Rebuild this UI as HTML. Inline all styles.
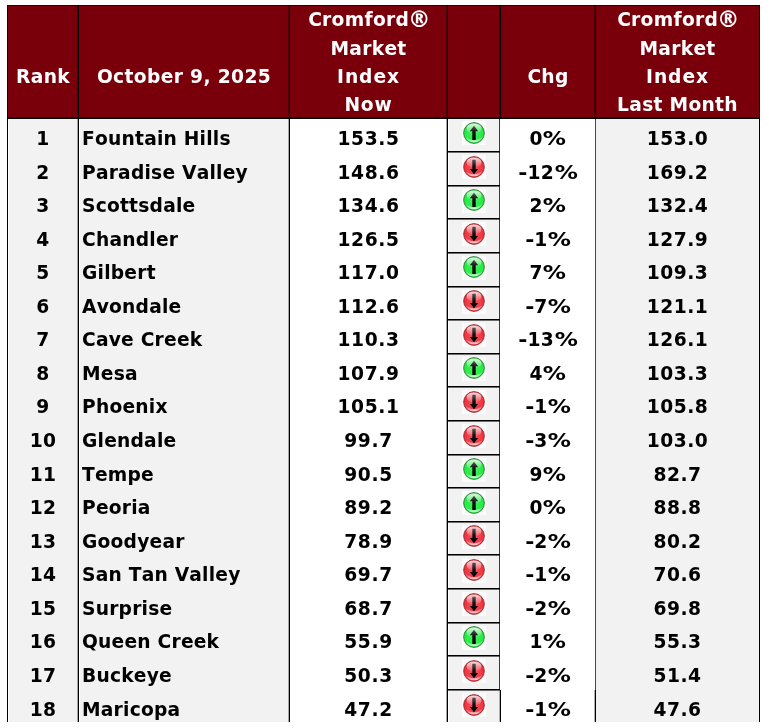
<!DOCTYPE html>
<html><head><meta charset="utf-8"><title>Cromford Market Index</title>
<style>
html,body{margin:0;padding:0;background:#fff;}
body{width:769px;height:728px;position:relative;overflow:hidden;font-family:"DejaVu Sans","Liberation Sans",sans-serif;font-weight:bold;font-size:18.67px;color:#000;}
.a{position:absolute;}
.t{position:absolute;white-space:nowrap;font-kerning:none;letter-spacing:0.3px;line-height:24px;height:24px;}
.c{text-align:center;}
.h{color:#fff;}
.g{background:#f1f1f1;}
.r{font-size:22.5px;line-height:0;letter-spacing:0;margin-left:-1.3px;margin-right:-1.5px;position:relative;top:0.5px}
.p{display:inline-block;transform:scaleX(1.24);margin:0 2.4px 0 2.6px;letter-spacing:0}
.m{display:inline-block;transform:scaleX(1.18);margin:0 0.9px 0 0.7px;letter-spacing:0}
svg{position:absolute;}
</style></head><body>
<svg width="0" height="0" style="left:0;top:0"><defs>
<radialGradient id="gu" cx="50%" cy="55%" r="55%"><stop offset="0" stop-color="#3cf558"/><stop offset="0.8" stop-color="#25ea42"/><stop offset="1" stop-color="#1cc432"/></radialGradient>
<radialGradient id="gd" cx="50%" cy="55%" r="55%"><stop offset="0" stop-color="#f9525b"/><stop offset="0.8" stop-color="#ee3340"/><stop offset="1" stop-color="#cc1d2a"/></radialGradient>
<linearGradient id="hl" x1="0" y1="0" x2="0" y2="1"><stop offset="0" stop-color="#fff" stop-opacity="0.85"/><stop offset="1" stop-color="#fff" stop-opacity="0.08"/></linearGradient>
<linearGradient id="bl" x1="0" y1="0" x2="0" y2="1"><stop offset="0" stop-color="#fff" stop-opacity="0"/><stop offset="1" stop-color="#fff" stop-opacity="0.8"/></linearGradient>
<linearGradient id="au" x1="0" y1="0" x2="0" y2="1"><stop offset="0" stop-color="#555"/><stop offset="0.45" stop-color="#111"/><stop offset="1" stop-color="#000"/></linearGradient>
<linearGradient id="ad" x1="0" y1="0" x2="0" y2="1"><stop offset="0" stop-color="#555"/><stop offset="0.45" stop-color="#111"/><stop offset="1" stop-color="#000"/></linearGradient>
</defs></svg>

<div class="a" style="left:7px;top:5px;width:753px;height:114px;background:#79000a"></div>
<div class="a" style="left:9px;top:119px;width:68px;height:603px;background:#f2f2f2"></div>
<div class="a" style="left:80px;top:119px;width:208px;height:603px;background:#f2f2f2"></div>
<div class="a" style="left:449px;top:119px;width:50px;height:603px;background:#f2f2f2"></div>
<div class="a" style="left:596px;top:119px;width:163px;height:603px;background:#f2f2f2"></div>
<div class="a" style="left:7px;top:5px;width:753px;height:1px;background:#2a0003"></div>
<div class="a" style="left:7px;top:117px;width:753px;height:1px;background:rgba(0,0,0,0.4)"></div>
<div class="a" style="left:7px;top:118px;width:753px;height:1px;background:#000"></div>
<div class="a" style="left:77px;top:5px;width:1px;height:717px;background:rgba(0,0,0,0.35)"></div>
<div class="a" style="left:78px;top:5px;width:1px;height:717px;background:#000"></div>
<div class="a" style="left:288px;top:5px;width:1px;height:717px;background:rgba(0,0,0,0.35)"></div>
<div class="a" style="left:289px;top:5px;width:1px;height:717px;background:#000"></div>
<div class="a" style="left:446px;top:5px;width:1px;height:717px;background:rgba(0,0,0,0.35)"></div>
<div class="a" style="left:447px;top:5px;width:1px;height:717px;background:#000"></div>
<div class="a" style="left:7px;top:5px;width:1px;height:717px;background:#000"></div>
<div class="a" style="left:759px;top:5px;width:1px;height:717px;background:#000"></div>
<div class="a" style="left:500px;top:5px;width:1px;height:113px;background:#000"></div>
<div class="a" style="left:499px;top:5px;width:1px;height:113px;background:rgba(0,0,0,0.35)"></div>
<div class="a" style="left:595px;top:5px;width:1px;height:113px;background:#000"></div>
<div class="a" style="left:594px;top:5px;width:1px;height:113px;background:rgba(0,0,0,0.35)"></div>
<div class="a" style="left:595px;top:119px;width:1px;height:571px;background:#484848"></div>
<div class="a" style="left:595px;top:690px;width:1px;height:32px;background:#000"></div>
<div class="a" style="left:594px;top:690px;width:1px;height:32px;background:rgba(0,0,0,0.3)"></div>
<div class="a" style="left:499px;top:119px;width:1px;height:571px;background:#3a3a3a"></div>
<div class="a" style="left:500px;top:690px;width:1px;height:32px;background:#000"></div>
<div class="a" style="left:499px;top:690px;width:1px;height:32px;background:rgba(0,0,0,0.3)"></div>
<div class="t c h" style="top:8px;transform:translateY(0.00px);letter-spacing:0.3px;left:290px;width:157px;">Cromford<span class="r">®</span></div>
<div class="t c h" style="top:37px;transform:translateY(0.00px);letter-spacing:0.3px;left:290px;width:157px;">Market</div>
<div class="t c h" style="top:65px;transform:translateY(0.00px);letter-spacing:0.95px;left:290px;width:157px;">Index</div>
<div class="t c h" style="top:93px;transform:translateY(0.00px);letter-spacing:0.8px;left:290px;width:157px;">Now</div>
<div class="t c h" style="top:8px;transform:translateY(0.00px);letter-spacing:0.3px;left:596px;width:163px;">Cromford<span class="r">®</span></div>
<div class="t c h" style="top:37px;transform:translateY(0.00px);letter-spacing:0.3px;left:596px;width:163px;">Market</div>
<div class="t c h" style="top:65px;transform:translateY(0.00px);letter-spacing:0.95px;left:596px;width:163px;">Index</div>
<div class="t c h" style="top:93px;transform:translateY(0.00px);letter-spacing:0.3px;left:596px;width:163px;">Last Month</div>
<div class="t c h" style="top:65px;transform:translateY(0.00px);left:8px;width:70px;">Rank</div>
<div class="t c h" style="top:65px;transform:translateY(0.00px);letter-spacing:0.36px;left:79px;width:210px;">October 9, 2025</div>
<div class="t c h" style="top:65px;transform:translateY(0.00px);left:501px;width:94px;">Chg</div>
<div class="t c" style="top:127px;transform:translateY(0.00px);left:8px;width:70px;">1</div>
<div class="t" style="top:127px;transform:translateY(0.00px);letter-spacing:0.22px;left:82px;">Fountain Hills</div>
<div class="t c" style="top:127px;transform:translateY(0.00px);letter-spacing:0.6px;left:290px;width:157px;">153.5</div>
<div class="t c" style="top:127px;transform:translateY(0.00px);left:501px;width:94px;">0<span class="p">%</span></div>
<div class="t c" style="top:127px;transform:translateY(0.00px);letter-spacing:0.45px;left:596px;width:163px;">153.0</div>
<div class="a" style="left:448px;top:151px;width:52px;height:1px;background:#000"></div>
<div class="a" style="left:448px;top:152px;width:52px;height:1px;background:rgba(0,0,0,0.55)"></div>
<div class="a" style="left:462px;top:121px;width:24px;height:24px;background:#fbfbfb"></div>
<svg style="left:461.90px;top:120.90px" width="24" height="24" viewBox="-12 -12 24 24"><circle r="10.4" fill="url(#gu)" stroke="#2a6e33" stroke-width="0.8"/><ellipse cx="0" cy="-4.6" rx="7.4" ry="5" fill="url(#hl)"/><path d="M-8.6,3.5 A9.3,9.3 0 0 0 8.6,3.5 A12,12 0 0 1 -8.6,3.5 Z" fill="url(#bl)"/><path d="M0,-7.2 L4.2,-1.8 L1.7,-1.8 L1.7,7 L-1.7,7 L-1.7,-1.8 L-4.2,-1.8 Z" fill="url(#au)"/></svg>
<div class="t c" style="top:160px;transform:translateY(0.56px);left:8px;width:70px;">2</div>
<div class="t" style="top:160px;transform:translateY(0.56px);letter-spacing:0.22px;left:82px;">Paradise Valley</div>
<div class="t c" style="top:160px;transform:translateY(0.56px);letter-spacing:0.6px;left:290px;width:157px;">148.6</div>
<div class="t c" style="top:160px;transform:translateY(0.56px);left:501px;width:94px;"><span class="m">-</span>12<span class="p">%</span></div>
<div class="t c" style="top:160px;transform:translateY(0.56px);letter-spacing:0.45px;left:596px;width:163px;">169.2</div>
<div class="a" style="left:448px;top:185px;width:52px;height:1px;background:#000"></div>
<div class="a" style="left:448px;top:186px;width:52px;height:1px;background:rgba(0,0,0,0.55)"></div>
<div class="a" style="left:462px;top:155px;width:24px;height:24px;background:#fbfbfb"></div>
<svg style="left:461.90px;top:154.53px" width="24" height="24" viewBox="-12 -12 24 24"><circle r="10.4" fill="url(#gd)" stroke="#8a2a30" stroke-width="0.8"/><ellipse cx="0" cy="-4.6" rx="7.4" ry="5" fill="url(#hl)"/><path d="M-8.6,3.5 A9.3,9.3 0 0 0 8.6,3.5 A12,12 0 0 1 -8.6,3.5 Z" fill="url(#bl)"/><path d="M0,7.2 L4.2,2.1 L1.7,2.1 L1.7,-7.2 L-1.7,-7.2 L-1.7,2.1 L-4.2,2.1 Z" fill="url(#ad)"/></svg>
<div class="t c" style="top:194px;transform:translateY(0.12px);left:8px;width:70px;">3</div>
<div class="t" style="top:194px;transform:translateY(0.12px);letter-spacing:0.22px;left:82px;">Scottsdale</div>
<div class="t c" style="top:194px;transform:translateY(0.12px);letter-spacing:0.6px;left:290px;width:157px;">134.6</div>
<div class="t c" style="top:194px;transform:translateY(0.12px);left:501px;width:94px;">2<span class="p">%</span></div>
<div class="t c" style="top:194px;transform:translateY(0.12px);letter-spacing:0.45px;left:596px;width:163px;">132.4</div>
<div class="a" style="left:448px;top:218px;width:52px;height:1px;background:#000"></div>
<div class="a" style="left:448px;top:219px;width:52px;height:1px;background:rgba(0,0,0,0.55)"></div>
<div class="a" style="left:462px;top:189px;width:24px;height:24px;background:#fbfbfb"></div>
<svg style="left:461.90px;top:188.16px" width="24" height="24" viewBox="-12 -12 24 24"><circle r="10.4" fill="url(#gu)" stroke="#2a6e33" stroke-width="0.8"/><ellipse cx="0" cy="-4.6" rx="7.4" ry="5" fill="url(#hl)"/><path d="M-8.6,3.5 A9.3,9.3 0 0 0 8.6,3.5 A12,12 0 0 1 -8.6,3.5 Z" fill="url(#bl)"/><path d="M0,-7.2 L4.2,-1.8 L1.7,-1.8 L1.7,7 L-1.7,7 L-1.7,-1.8 L-4.2,-1.8 Z" fill="url(#au)"/></svg>
<div class="t c" style="top:227px;transform:translateY(0.68px);left:8px;width:70px;">4</div>
<div class="t" style="top:227px;transform:translateY(0.68px);letter-spacing:0.22px;left:82px;">Chandler</div>
<div class="t c" style="top:227px;transform:translateY(0.68px);letter-spacing:0.6px;left:290px;width:157px;">126.5</div>
<div class="t c" style="top:227px;transform:translateY(0.68px);left:501px;width:94px;"><span class="m">-</span>1<span class="p">%</span></div>
<div class="t c" style="top:227px;transform:translateY(0.68px);letter-spacing:0.45px;left:596px;width:163px;">127.9</div>
<div class="a" style="left:448px;top:252px;width:52px;height:1px;background:#000"></div>
<div class="a" style="left:448px;top:253px;width:52px;height:1px;background:rgba(0,0,0,0.55)"></div>
<div class="a" style="left:462px;top:222px;width:24px;height:24px;background:#fbfbfb"></div>
<svg style="left:461.90px;top:221.79px" width="24" height="24" viewBox="-12 -12 24 24"><circle r="10.4" fill="url(#gd)" stroke="#8a2a30" stroke-width="0.8"/><ellipse cx="0" cy="-4.6" rx="7.4" ry="5" fill="url(#hl)"/><path d="M-8.6,3.5 A9.3,9.3 0 0 0 8.6,3.5 A12,12 0 0 1 -8.6,3.5 Z" fill="url(#bl)"/><path d="M0,7.2 L4.2,2.1 L1.7,2.1 L1.7,-7.2 L-1.7,-7.2 L-1.7,2.1 L-4.2,2.1 Z" fill="url(#ad)"/></svg>
<div class="t c" style="top:261px;transform:translateY(0.24px);left:8px;width:70px;">5</div>
<div class="t" style="top:261px;transform:translateY(0.24px);letter-spacing:0.22px;left:82px;">Gilbert</div>
<div class="t c" style="top:261px;transform:translateY(0.24px);letter-spacing:0.6px;left:290px;width:157px;">117.0</div>
<div class="t c" style="top:261px;transform:translateY(0.24px);left:501px;width:94px;">7<span class="p">%</span></div>
<div class="t c" style="top:261px;transform:translateY(0.24px);letter-spacing:0.45px;left:596px;width:163px;">109.3</div>
<div class="a" style="left:448px;top:286px;width:52px;height:1px;background:#000"></div>
<div class="a" style="left:448px;top:287px;width:52px;height:1px;background:rgba(0,0,0,0.55)"></div>
<div class="a" style="left:462px;top:256px;width:24px;height:24px;background:#fbfbfb"></div>
<svg style="left:461.90px;top:255.42px" width="24" height="24" viewBox="-12 -12 24 24"><circle r="10.4" fill="url(#gu)" stroke="#2a6e33" stroke-width="0.8"/><ellipse cx="0" cy="-4.6" rx="7.4" ry="5" fill="url(#hl)"/><path d="M-8.6,3.5 A9.3,9.3 0 0 0 8.6,3.5 A12,12 0 0 1 -8.6,3.5 Z" fill="url(#bl)"/><path d="M0,-7.2 L4.2,-1.8 L1.7,-1.8 L1.7,7 L-1.7,7 L-1.7,-1.8 L-4.2,-1.8 Z" fill="url(#au)"/></svg>
<div class="t c" style="top:294px;transform:translateY(0.80px);left:8px;width:70px;">6</div>
<div class="t" style="top:294px;transform:translateY(0.80px);letter-spacing:0.22px;left:82px;">Avondale</div>
<div class="t c" style="top:294px;transform:translateY(0.80px);letter-spacing:0.6px;left:290px;width:157px;">112.6</div>
<div class="t c" style="top:294px;transform:translateY(0.80px);left:501px;width:94px;"><span class="m">-</span>7<span class="p">%</span></div>
<div class="t c" style="top:294px;transform:translateY(0.80px);letter-spacing:0.45px;left:596px;width:163px;">121.1</div>
<div class="a" style="left:448px;top:319px;width:52px;height:1px;background:#000"></div>
<div class="a" style="left:448px;top:320px;width:52px;height:1px;background:rgba(0,0,0,0.55)"></div>
<div class="a" style="left:462px;top:290px;width:24px;height:24px;background:#fbfbfb"></div>
<svg style="left:461.90px;top:289.05px" width="24" height="24" viewBox="-12 -12 24 24"><circle r="10.4" fill="url(#gd)" stroke="#8a2a30" stroke-width="0.8"/><ellipse cx="0" cy="-4.6" rx="7.4" ry="5" fill="url(#hl)"/><path d="M-8.6,3.5 A9.3,9.3 0 0 0 8.6,3.5 A12,12 0 0 1 -8.6,3.5 Z" fill="url(#bl)"/><path d="M0,7.2 L4.2,2.1 L1.7,2.1 L1.7,-7.2 L-1.7,-7.2 L-1.7,2.1 L-4.2,2.1 Z" fill="url(#ad)"/></svg>
<div class="t c" style="top:328px;transform:translateY(0.36px);left:8px;width:70px;">7</div>
<div class="t" style="top:328px;transform:translateY(0.36px);letter-spacing:0.22px;left:82px;">Cave Creek</div>
<div class="t c" style="top:328px;transform:translateY(0.36px);letter-spacing:0.6px;left:290px;width:157px;">110.3</div>
<div class="t c" style="top:328px;transform:translateY(0.36px);left:501px;width:94px;"><span class="m">-</span>13<span class="p">%</span></div>
<div class="t c" style="top:328px;transform:translateY(0.36px);letter-spacing:0.45px;left:596px;width:163px;">126.1</div>
<div class="a" style="left:448px;top:353px;width:52px;height:1px;background:#000"></div>
<div class="a" style="left:448px;top:354px;width:52px;height:1px;background:rgba(0,0,0,0.55)"></div>
<div class="a" style="left:462px;top:323px;width:24px;height:24px;background:#fbfbfb"></div>
<svg style="left:461.90px;top:322.68px" width="24" height="24" viewBox="-12 -12 24 24"><circle r="10.4" fill="url(#gd)" stroke="#8a2a30" stroke-width="0.8"/><ellipse cx="0" cy="-4.6" rx="7.4" ry="5" fill="url(#hl)"/><path d="M-8.6,3.5 A9.3,9.3 0 0 0 8.6,3.5 A12,12 0 0 1 -8.6,3.5 Z" fill="url(#bl)"/><path d="M0,7.2 L4.2,2.1 L1.7,2.1 L1.7,-7.2 L-1.7,-7.2 L-1.7,2.1 L-4.2,2.1 Z" fill="url(#ad)"/></svg>
<div class="t c" style="top:361px;transform:translateY(0.92px);left:8px;width:70px;">8</div>
<div class="t" style="top:361px;transform:translateY(0.92px);letter-spacing:0.22px;left:82px;">Mesa</div>
<div class="t c" style="top:361px;transform:translateY(0.92px);letter-spacing:0.6px;left:290px;width:157px;">107.9</div>
<div class="t c" style="top:361px;transform:translateY(0.92px);left:501px;width:94px;">4<span class="p">%</span></div>
<div class="t c" style="top:361px;transform:translateY(0.92px);letter-spacing:0.45px;left:596px;width:163px;">103.3</div>
<div class="a" style="left:448px;top:386px;width:52px;height:1px;background:#000"></div>
<div class="a" style="left:448px;top:387px;width:52px;height:1px;background:rgba(0,0,0,0.55)"></div>
<div class="a" style="left:462px;top:357px;width:24px;height:24px;background:#fbfbfb"></div>
<svg style="left:461.90px;top:356.31px" width="24" height="24" viewBox="-12 -12 24 24"><circle r="10.4" fill="url(#gu)" stroke="#2a6e33" stroke-width="0.8"/><ellipse cx="0" cy="-4.6" rx="7.4" ry="5" fill="url(#hl)"/><path d="M-8.6,3.5 A9.3,9.3 0 0 0 8.6,3.5 A12,12 0 0 1 -8.6,3.5 Z" fill="url(#bl)"/><path d="M0,-7.2 L4.2,-1.8 L1.7,-1.8 L1.7,7 L-1.7,7 L-1.7,-1.8 L-4.2,-1.8 Z" fill="url(#au)"/></svg>
<div class="t c" style="top:395px;transform:translateY(0.48px);left:8px;width:70px;">9</div>
<div class="t" style="top:395px;transform:translateY(0.48px);letter-spacing:0.22px;left:82px;">Phoenix</div>
<div class="t c" style="top:395px;transform:translateY(0.48px);letter-spacing:0.6px;left:290px;width:157px;">105.1</div>
<div class="t c" style="top:395px;transform:translateY(0.48px);left:501px;width:94px;"><span class="m">-</span>1<span class="p">%</span></div>
<div class="t c" style="top:395px;transform:translateY(0.48px);letter-spacing:0.45px;left:596px;width:163px;">105.8</div>
<div class="a" style="left:448px;top:420px;width:52px;height:1px;background:#000"></div>
<div class="a" style="left:448px;top:421px;width:52px;height:1px;background:rgba(0,0,0,0.55)"></div>
<div class="a" style="left:462px;top:390px;width:24px;height:24px;background:#fbfbfb"></div>
<svg style="left:461.90px;top:389.94px" width="24" height="24" viewBox="-12 -12 24 24"><circle r="10.4" fill="url(#gd)" stroke="#8a2a30" stroke-width="0.8"/><ellipse cx="0" cy="-4.6" rx="7.4" ry="5" fill="url(#hl)"/><path d="M-8.6,3.5 A9.3,9.3 0 0 0 8.6,3.5 A12,12 0 0 1 -8.6,3.5 Z" fill="url(#bl)"/><path d="M0,7.2 L4.2,2.1 L1.7,2.1 L1.7,-7.2 L-1.7,-7.2 L-1.7,2.1 L-4.2,2.1 Z" fill="url(#ad)"/></svg>
<div class="t c" style="top:429px;transform:translateY(0.04px);left:8px;width:70px;">10</div>
<div class="t" style="top:429px;transform:translateY(0.04px);letter-spacing:0.22px;left:82px;">Glendale</div>
<div class="t c" style="top:429px;transform:translateY(0.04px);letter-spacing:0.6px;left:290px;width:157px;">99.7</div>
<div class="t c" style="top:429px;transform:translateY(0.04px);left:501px;width:94px;"><span class="m">-</span>3<span class="p">%</span></div>
<div class="t c" style="top:429px;transform:translateY(0.04px);letter-spacing:0.45px;left:596px;width:163px;">103.0</div>
<div class="a" style="left:448px;top:454px;width:52px;height:1px;background:#000"></div>
<div class="a" style="left:448px;top:455px;width:52px;height:1px;background:rgba(0,0,0,0.55)"></div>
<div class="a" style="left:462px;top:424px;width:24px;height:24px;background:#fbfbfb"></div>
<svg style="left:461.90px;top:423.57px" width="24" height="24" viewBox="-12 -12 24 24"><circle r="10.4" fill="url(#gd)" stroke="#8a2a30" stroke-width="0.8"/><ellipse cx="0" cy="-4.6" rx="7.4" ry="5" fill="url(#hl)"/><path d="M-8.6,3.5 A9.3,9.3 0 0 0 8.6,3.5 A12,12 0 0 1 -8.6,3.5 Z" fill="url(#bl)"/><path d="M0,7.2 L4.2,2.1 L1.7,2.1 L1.7,-7.2 L-1.7,-7.2 L-1.7,2.1 L-4.2,2.1 Z" fill="url(#ad)"/></svg>
<div class="t c" style="top:462px;transform:translateY(0.60px);left:8px;width:70px;">11</div>
<div class="t" style="top:462px;transform:translateY(0.60px);letter-spacing:0.22px;left:82px;">Tempe</div>
<div class="t c" style="top:462px;transform:translateY(0.60px);letter-spacing:0.6px;left:290px;width:157px;">90.5</div>
<div class="t c" style="top:462px;transform:translateY(0.60px);left:501px;width:94px;">9<span class="p">%</span></div>
<div class="t c" style="top:462px;transform:translateY(0.60px);letter-spacing:0.45px;left:596px;width:163px;">82.7</div>
<div class="a" style="left:448px;top:487px;width:52px;height:1px;background:#000"></div>
<div class="a" style="left:448px;top:488px;width:52px;height:1px;background:rgba(0,0,0,0.55)"></div>
<div class="a" style="left:462px;top:458px;width:24px;height:24px;background:#fbfbfb"></div>
<svg style="left:461.90px;top:457.20px" width="24" height="24" viewBox="-12 -12 24 24"><circle r="10.4" fill="url(#gu)" stroke="#2a6e33" stroke-width="0.8"/><ellipse cx="0" cy="-4.6" rx="7.4" ry="5" fill="url(#hl)"/><path d="M-8.6,3.5 A9.3,9.3 0 0 0 8.6,3.5 A12,12 0 0 1 -8.6,3.5 Z" fill="url(#bl)"/><path d="M0,-7.2 L4.2,-1.8 L1.7,-1.8 L1.7,7 L-1.7,7 L-1.7,-1.8 L-4.2,-1.8 Z" fill="url(#au)"/></svg>
<div class="t c" style="top:496px;transform:translateY(0.16px);left:8px;width:70px;">12</div>
<div class="t" style="top:496px;transform:translateY(0.16px);letter-spacing:0.22px;left:82px;">Peoria</div>
<div class="t c" style="top:496px;transform:translateY(0.16px);letter-spacing:0.6px;left:290px;width:157px;">89.2</div>
<div class="t c" style="top:496px;transform:translateY(0.16px);left:501px;width:94px;">0<span class="p">%</span></div>
<div class="t c" style="top:496px;transform:translateY(0.16px);letter-spacing:0.45px;left:596px;width:163px;">88.8</div>
<div class="a" style="left:448px;top:521px;width:52px;height:1px;background:#000"></div>
<div class="a" style="left:448px;top:522px;width:52px;height:1px;background:rgba(0,0,0,0.55)"></div>
<div class="a" style="left:462px;top:491px;width:24px;height:24px;background:#fbfbfb"></div>
<svg style="left:461.90px;top:490.83px" width="24" height="24" viewBox="-12 -12 24 24"><circle r="10.4" fill="url(#gu)" stroke="#2a6e33" stroke-width="0.8"/><ellipse cx="0" cy="-4.6" rx="7.4" ry="5" fill="url(#hl)"/><path d="M-8.6,3.5 A9.3,9.3 0 0 0 8.6,3.5 A12,12 0 0 1 -8.6,3.5 Z" fill="url(#bl)"/><path d="M0,-7.2 L4.2,-1.8 L1.7,-1.8 L1.7,7 L-1.7,7 L-1.7,-1.8 L-4.2,-1.8 Z" fill="url(#au)"/></svg>
<div class="t c" style="top:529px;transform:translateY(0.72px);left:8px;width:70px;">13</div>
<div class="t" style="top:529px;transform:translateY(0.72px);letter-spacing:0.22px;left:82px;">Goodyear</div>
<div class="t c" style="top:529px;transform:translateY(0.72px);letter-spacing:0.6px;left:290px;width:157px;">78.9</div>
<div class="t c" style="top:529px;transform:translateY(0.72px);left:501px;width:94px;"><span class="m">-</span>2<span class="p">%</span></div>
<div class="t c" style="top:529px;transform:translateY(0.72px);letter-spacing:0.45px;left:596px;width:163px;">80.2</div>
<div class="a" style="left:448px;top:554px;width:52px;height:1px;background:#000"></div>
<div class="a" style="left:448px;top:555px;width:52px;height:1px;background:rgba(0,0,0,0.55)"></div>
<div class="a" style="left:462px;top:525px;width:24px;height:24px;background:#fbfbfb"></div>
<svg style="left:461.90px;top:524.46px" width="24" height="24" viewBox="-12 -12 24 24"><circle r="10.4" fill="url(#gd)" stroke="#8a2a30" stroke-width="0.8"/><ellipse cx="0" cy="-4.6" rx="7.4" ry="5" fill="url(#hl)"/><path d="M-8.6,3.5 A9.3,9.3 0 0 0 8.6,3.5 A12,12 0 0 1 -8.6,3.5 Z" fill="url(#bl)"/><path d="M0,7.2 L4.2,2.1 L1.7,2.1 L1.7,-7.2 L-1.7,-7.2 L-1.7,2.1 L-4.2,2.1 Z" fill="url(#ad)"/></svg>
<div class="t c" style="top:563px;transform:translateY(0.28px);left:8px;width:70px;">14</div>
<div class="t" style="top:563px;transform:translateY(0.28px);letter-spacing:0.22px;left:82px;">San Tan Valley</div>
<div class="t c" style="top:563px;transform:translateY(0.28px);letter-spacing:0.6px;left:290px;width:157px;">69.7</div>
<div class="t c" style="top:563px;transform:translateY(0.28px);left:501px;width:94px;"><span class="m">-</span>1<span class="p">%</span></div>
<div class="t c" style="top:563px;transform:translateY(0.28px);letter-spacing:0.45px;left:596px;width:163px;">70.6</div>
<div class="a" style="left:448px;top:588px;width:52px;height:1px;background:#000"></div>
<div class="a" style="left:448px;top:589px;width:52px;height:1px;background:rgba(0,0,0,0.55)"></div>
<div class="a" style="left:462px;top:559px;width:24px;height:24px;background:#fbfbfb"></div>
<svg style="left:461.90px;top:558.09px" width="24" height="24" viewBox="-12 -12 24 24"><circle r="10.4" fill="url(#gd)" stroke="#8a2a30" stroke-width="0.8"/><ellipse cx="0" cy="-4.6" rx="7.4" ry="5" fill="url(#hl)"/><path d="M-8.6,3.5 A9.3,9.3 0 0 0 8.6,3.5 A12,12 0 0 1 -8.6,3.5 Z" fill="url(#bl)"/><path d="M0,7.2 L4.2,2.1 L1.7,2.1 L1.7,-7.2 L-1.7,-7.2 L-1.7,2.1 L-4.2,2.1 Z" fill="url(#ad)"/></svg>
<div class="t c" style="top:596px;transform:translateY(0.84px);left:8px;width:70px;">15</div>
<div class="t" style="top:596px;transform:translateY(0.84px);letter-spacing:0.22px;left:82px;">Surprise</div>
<div class="t c" style="top:596px;transform:translateY(0.84px);letter-spacing:0.6px;left:290px;width:157px;">68.7</div>
<div class="t c" style="top:596px;transform:translateY(0.84px);left:501px;width:94px;"><span class="m">-</span>2<span class="p">%</span></div>
<div class="t c" style="top:596px;transform:translateY(0.84px);letter-spacing:0.45px;left:596px;width:163px;">69.8</div>
<div class="a" style="left:448px;top:622px;width:52px;height:1px;background:#000"></div>
<div class="a" style="left:448px;top:623px;width:52px;height:1px;background:rgba(0,0,0,0.55)"></div>
<div class="a" style="left:462px;top:592px;width:24px;height:24px;background:#fbfbfb"></div>
<svg style="left:461.90px;top:591.72px" width="24" height="24" viewBox="-12 -12 24 24"><circle r="10.4" fill="url(#gd)" stroke="#8a2a30" stroke-width="0.8"/><ellipse cx="0" cy="-4.6" rx="7.4" ry="5" fill="url(#hl)"/><path d="M-8.6,3.5 A9.3,9.3 0 0 0 8.6,3.5 A12,12 0 0 1 -8.6,3.5 Z" fill="url(#bl)"/><path d="M0,7.2 L4.2,2.1 L1.7,2.1 L1.7,-7.2 L-1.7,-7.2 L-1.7,2.1 L-4.2,2.1 Z" fill="url(#ad)"/></svg>
<div class="t c" style="top:630px;transform:translateY(0.40px);left:8px;width:70px;">16</div>
<div class="t" style="top:630px;transform:translateY(0.40px);letter-spacing:0.22px;left:82px;">Queen Creek</div>
<div class="t c" style="top:630px;transform:translateY(0.40px);letter-spacing:0.6px;left:290px;width:157px;">55.9</div>
<div class="t c" style="top:630px;transform:translateY(0.40px);left:501px;width:94px;">1<span class="p">%</span></div>
<div class="t c" style="top:630px;transform:translateY(0.40px);letter-spacing:0.45px;left:596px;width:163px;">55.3</div>
<div class="a" style="left:448px;top:655px;width:52px;height:1px;background:#000"></div>
<div class="a" style="left:448px;top:656px;width:52px;height:1px;background:rgba(0,0,0,0.55)"></div>
<div class="a" style="left:462px;top:626px;width:24px;height:24px;background:#fbfbfb"></div>
<svg style="left:461.90px;top:625.35px" width="24" height="24" viewBox="-12 -12 24 24"><circle r="10.4" fill="url(#gu)" stroke="#2a6e33" stroke-width="0.8"/><ellipse cx="0" cy="-4.6" rx="7.4" ry="5" fill="url(#hl)"/><path d="M-8.6,3.5 A9.3,9.3 0 0 0 8.6,3.5 A12,12 0 0 1 -8.6,3.5 Z" fill="url(#bl)"/><path d="M0,-7.2 L4.2,-1.8 L1.7,-1.8 L1.7,7 L-1.7,7 L-1.7,-1.8 L-4.2,-1.8 Z" fill="url(#au)"/></svg>
<div class="t c" style="top:663px;transform:translateY(0.96px);left:8px;width:70px;">17</div>
<div class="t" style="top:663px;transform:translateY(0.96px);letter-spacing:0.22px;left:82px;">Buckeye</div>
<div class="t c" style="top:663px;transform:translateY(0.96px);letter-spacing:0.6px;left:290px;width:157px;">50.3</div>
<div class="t c" style="top:663px;transform:translateY(0.96px);left:501px;width:94px;"><span class="m">-</span>2<span class="p">%</span></div>
<div class="t c" style="top:663px;transform:translateY(0.96px);letter-spacing:0.45px;left:596px;width:163px;">51.4</div>
<div class="a" style="left:448px;top:689px;width:52px;height:1px;background:#000"></div>
<div class="a" style="left:448px;top:690px;width:52px;height:1px;background:rgba(0,0,0,0.55)"></div>
<div class="a" style="left:462px;top:659px;width:24px;height:24px;background:#fbfbfb"></div>
<svg style="left:461.90px;top:658.98px" width="24" height="24" viewBox="-12 -12 24 24"><circle r="10.4" fill="url(#gd)" stroke="#8a2a30" stroke-width="0.8"/><ellipse cx="0" cy="-4.6" rx="7.4" ry="5" fill="url(#hl)"/><path d="M-8.6,3.5 A9.3,9.3 0 0 0 8.6,3.5 A12,12 0 0 1 -8.6,3.5 Z" fill="url(#bl)"/><path d="M0,7.2 L4.2,2.1 L1.7,2.1 L1.7,-7.2 L-1.7,-7.2 L-1.7,2.1 L-4.2,2.1 Z" fill="url(#ad)"/></svg>
<div class="t c" style="top:697px;transform:translateY(0.52px);left:8px;width:70px;">18</div>
<div class="t" style="top:697px;transform:translateY(0.52px);letter-spacing:0.22px;left:82px;">Maricopa</div>
<div class="t c" style="top:697px;transform:translateY(0.52px);letter-spacing:0.6px;left:290px;width:157px;">47.2</div>
<div class="t c" style="top:697px;transform:translateY(0.52px);left:501px;width:94px;"><span class="m">-</span>1<span class="p">%</span></div>
<div class="t c" style="top:697px;transform:translateY(0.52px);letter-spacing:0.45px;left:596px;width:163px;">47.6</div>
<div class="a" style="left:462px;top:693px;width:24px;height:24px;background:#fbfbfb"></div>
<svg style="left:461.90px;top:692.61px" width="24" height="24" viewBox="-12 -12 24 24"><circle r="10.4" fill="url(#gd)" stroke="#8a2a30" stroke-width="0.8"/><ellipse cx="0" cy="-4.6" rx="7.4" ry="5" fill="url(#hl)"/><path d="M-8.6,3.5 A9.3,9.3 0 0 0 8.6,3.5 A12,12 0 0 1 -8.6,3.5 Z" fill="url(#bl)"/><path d="M0,7.2 L4.2,2.1 L1.7,2.1 L1.7,-7.2 L-1.7,-7.2 L-1.7,2.1 L-4.2,2.1 Z" fill="url(#ad)"/></svg>
</body></html>
